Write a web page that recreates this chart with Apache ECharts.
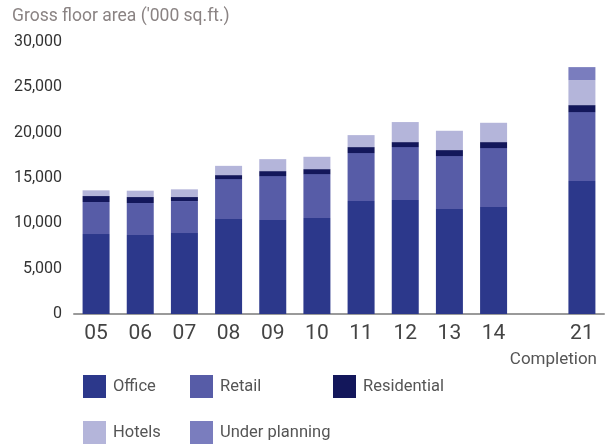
<!DOCTYPE html>
<html>
<head>
<meta charset="utf-8">
<script src="https://cdn.jsdelivr.net/npm/echarts@6/dist/echarts.min.js"></script>
<style>
  html, body { margin: 0; padding: 0; background: #fff; }
  #chart { width: 611px; height: 445px; }
</style>
</head>
<body>
<div id="chart"></div>
<script>
// Gross floor area by year of completion ('000 sq.ft.)
const categories = ['05', '06', '07', '08', '09', '10', '11', '12', '13', '14', '', '21'];
const office        = [8820, 8710, 8930, 10470, 10360, 10580, 12460, 12570, 11580, 11800, null, 14660];
const retail        = [3530, 3530, 3530, 4410, 4850, 4850, 5290, 5840, 5840, 6500, null, 7610];
const residential   = [660, 660, 440, 440, 550, 550, 660, 550, 660, 660, null, 770];
const hotels        = [630, 700, 850, 1020, 1320, 1360, 1320, 2210, 2130, 2130, null, 2760];
const underPlanning = [null, null, null, null, null, null, null, null, null, null, null, 1430];
const yTicks = { min: 0, max: 30000, interval: 5000 };

const FONT = 'Roboto, "DejaVu Sans", sans-serif';

const seriesDefs = [
  { name: 'Office', data: office, color: '#2c388b' },
  { name: 'Retail', data: retail, color: '#575ca7' },
  { name: 'Residential', data: residential, color: '#13175b' },
  { name: 'Hotels', data: hotels, color: '#b4b5da' },
  { name: 'Under planning', data: underPlanning, color: '#7a7dbe' }
];

const legendPos = [
  { left: 83, top: 375 },
  { left: 190, top: 375 },
  { left: 333, top: 375 },
  { left: 83, top: 421 },
  { left: 190, top: 421 }
];

const chart = echarts.init(document.getElementById('chart'), null, { renderer: 'canvas' });

chart.setOption({
  animation: false,
  backgroundColor: '#ffffff',
  title: [
    {
      text: "Gross floor area ('000 sq.ft.)",
      left: 7, top: 3,
      textStyle: { fontFamily: FONT, fontSize: 17.5, fontWeight: 'normal', color: '#8a8383' }
    },
    {
      text: 'Completion',
      right: 9, top: 346,
      textStyle: { fontFamily: FONT, fontSize: 17, fontWeight: 'normal', color: '#555' }
    }
  ],
  legend: seriesDefs.map((s, i) => ({
    data: [s.name],
    left: legendPos[i].left,
    top: legendPos[i].top,
    padding: 0,
    itemWidth: 23,
    itemHeight: 23,
    itemGap: 0,
    icon: 'rect',
    selectedMode: false,
    textStyle: { fontFamily: FONT, fontSize: 16.5, color: '#555', padding: [0, 0, 0, 2] }
  })),
  grid: { left: 74, right: 7, top: 42, bottom: 131 },
  xAxis: {
    type: 'category',
    data: categories,
    axisLine: { lineStyle: { color: '#9a9a9a', width: 2 } },
    axisTick: { show: false },
    axisLabel: { fontFamily: FONT, fontSize: 21, color: '#444', margin: 9 }
  },
  yAxis: {
    type: 'value',
    min: yTicks.min,
    max: yTicks.max,
    interval: yTicks.interval,
    axisLine: { show: false },
    axisTick: { show: false },
    splitLine: { show: false },
    axisLabel: {
      fontFamily: FONT, fontSize: 16, color: '#333', margin: 12,
      formatter: v => v.toLocaleString('en-US')
    }
  },
  series: seriesDefs.map(s => ({
    name: s.name,
    type: 'bar',
    stack: 'gfa',
    barWidth: 27,
    data: s.data,
    itemStyle: { color: s.color }
  }))
});
</script>
</body>
</html>
